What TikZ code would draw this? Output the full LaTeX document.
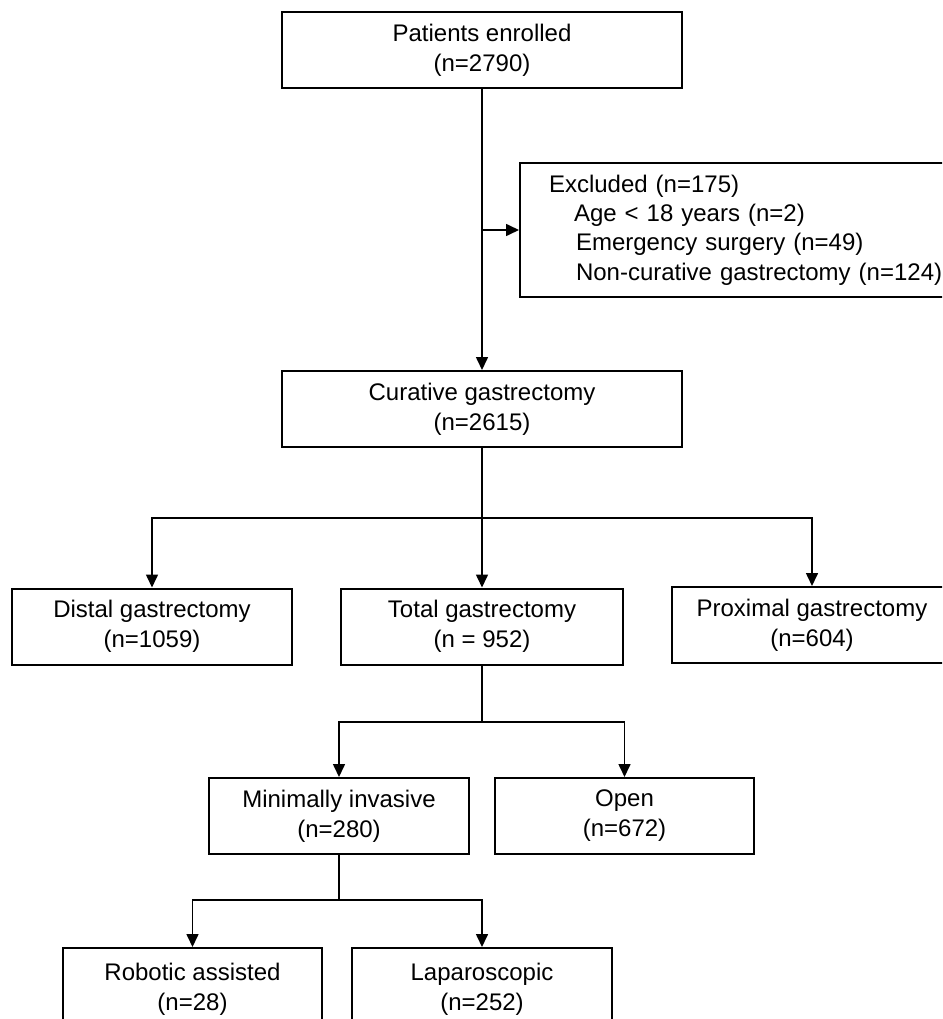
\documentclass[tikz,border=0pt]{standalone}
\usepackage{fontspec}
\setmainfont{Liberation Sans}
\usetikzlibrary{arrows.meta}

\begin{document}
\begin{tikzpicture}[x=1pt,y=-1pt,
		box/.style={draw,line width=2pt,align=center,inner sep=0pt,
			minimum height=76pt,font=\fontsize{24}{30}\selectfont},
		link/.style={line width=1.6pt},
		arr/.style={line width=1.6pt,-{Triangle[length=13pt,width=12pt]}}]
		\clip (0,0) rectangle (942,1019);
		\fill[white] (0,0) rectangle (942,1019);
		
		\node[box,minimum width=400pt] (enrolled) at (482,50) {Patients enrolled\\(n=2790)};
		\node[box,minimum width=400pt] (curative) at (482,409) {Curative gastrectomy\\(n=2615)};
		\node[box,anchor=west,align=left,text width=400pt,inner xsep=29pt,
			minimum height=134pt,font=\fontsize{24}{29.3}\selectfont] (excluded) at (519,230)
		{Excluded (n=175)\\
			\hspace*{25pt}Age < 18 years (n=2)\\
			\hspace*{27pt}Emergency surgery (n=49)\\
			\hspace*{27pt}Non-curative gastrectomy (n=124)};
		
		\node[box,minimum width=280pt] (distal) at (152,626.5) {Distal gastrectomy\\(n=1059)};
		\node[box,minimum width=282pt] (total) at (482,626.5) {Total gastrectomy\\(n = 952)};
		\node[box,minimum width=280pt] (proximal) at (812,625) {Proximal gastrectomy\\(n=604)};
		
		\node[box,minimum width=260pt] (minimal) at (339,816) {Minimally invasive\\(n=280)};
		\node[box,minimum width=259pt] (open) at (624.5,816) {Open\\(n=672)};
		
		\node[box,minimum width=259pt,minimum height=82pt] (robotic) at (192.5,989) {Robotic assisted\\(n=28)};
		\node[box,minimum width=260pt,minimum height=82pt] (lapar) at (482,989) {Laparoscopic\\(n=252)};
		
		% branch points
		\coordinate (split1) at (482,518);
		\coordinate (split2) at (482,722);
		\coordinate (split3) at (339,900);
		
		\draw[arr] (enrolled.south) -- (curative.north);
		\draw[arr] (enrolled.south |- excluded.west) -- (excluded.west);
		
		\draw[arr] (curative.south) -- (total.north);
		\draw[arr] (split1) -| (distal.north);
		\draw[arr] (split1) -| (proximal.north);
		
		\draw[link] (total.south) -- (split2);
		\draw[arr] (split2) -| (minimal.north);
		\draw[arr] (split2) -| (open.north);
		
		\draw[link] (minimal.south) -- (split3);
		\draw[arr] (split3) -| (robotic.north);
		\draw[arr] (split3) -| (lapar.north);
	\end{tikzpicture}
\end{document}
